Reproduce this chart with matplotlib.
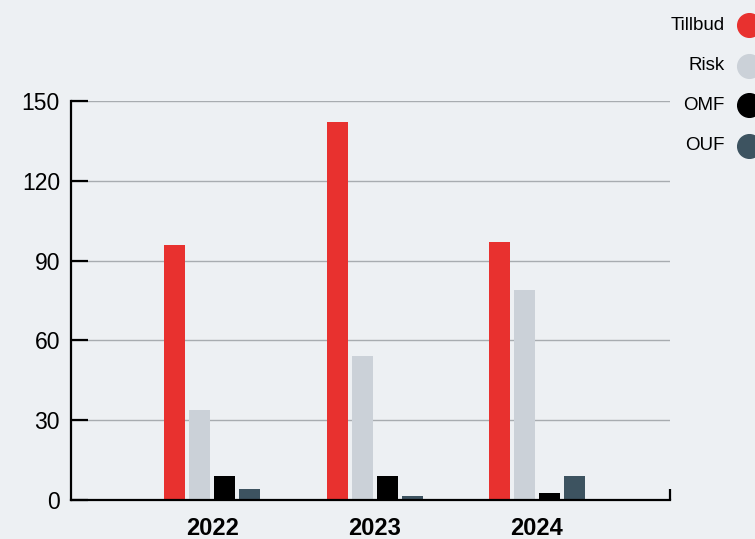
import matplotlib.pyplot as plt
import numpy as np

years = ["2022", "2023", "2024"]
series = ["Tillbud", "Risk", "OMF", "OUF"]
tillbud = [96, 142, 97]
risk = [34, 54, 79]
omf = [9, 9, 2.5]
ouf = [4, 1.5, 9]
colors = ["#e8312f", "#cbd1d8", "#000000", "#3d5360"]

bg = "#edf0f3"
plt.rcParams['font.family'] = ['Liberation Sans', 'DejaVu Sans']

fig = plt.figure(figsize=(7.55, 5.39), dpi=100, facecolor=bg)
ax = fig.add_axes([71 / 755, 1 - 500 / 539, (670 - 71) / 755, 399 / 539])
ax.set_facecolor(bg)

x = np.arange(len(years))
w = 0.13
step = 0.154
values = [tillbud, risk, omf, ouf]
for i, (name, vals) in enumerate(zip(series, values)):
    ax.bar(x + (i - 1.5) * step, vals, width=w, color=colors[i], zorder=3)

ax.set_ylim(0, 150)
ax.set_xlim(-0.87, 2.82)
ax.set_yticks([0, 30, 60, 90, 120, 150])
ax.yaxis.grid(True, color="#a8acb0", lw=1, zorder=0)
ax.tick_params(axis="y", direction="in", length=12, width=1.6, color="black",
               labelsize=16.5, pad=8)
ax.set_xticks(x)
ax.set_xticklabels(years, fontsize=17, fontweight="bold")
ax.tick_params(axis="x", length=0, pad=12)
# small end tick on the right of the x axis
ax.set_xticks([2.82], minor=True)
ax.tick_params(axis="x", which="minor", direction="in", length=8, width=1.6)

for s in ["top", "right"]:
    ax.spines[s].set_visible(False)
for s in ["left", "bottom"]:
    ax.spines[s].set_linewidth(1.6)
    ax.spines[s].set_zorder(4)

# legend at top right
lg = fig.add_axes([0, 0, 1, 1])
lg.set_xlim(0, 755)
lg.set_ylim(539, 0)
lg.axis("off")
rows = [25, 66, 105, 146]
for name, c, yy in zip(series, colors, rows):
    lg.scatter([749], [yy], s=290, color=c, clip_on=False)
    lg.text(725, yy, name, ha="right", va="center", fontsize=13.5)

fig.savefig("out.png", dpi=100, facecolor=bg)
